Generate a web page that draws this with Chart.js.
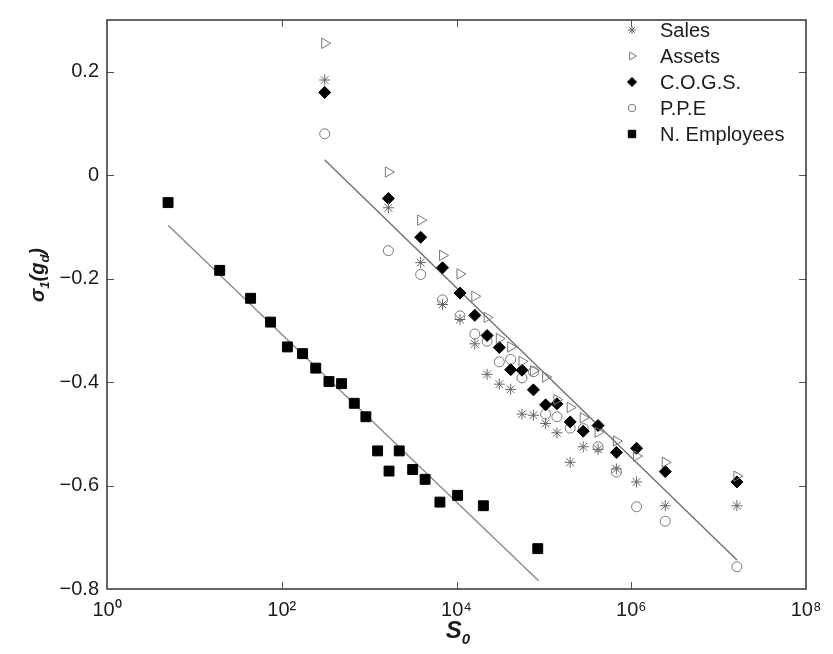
<!DOCTYPE html>
<html>
<head>
<meta charset="utf-8">
<script src="https://cdn.jsdelivr.net/npm/chart.js@4.4.1/dist/chart.umd.min.js"></script>
<style>
  html, body { margin: 0; padding: 0; background: #fff; }
  #wrap { width: 833px; height: 654px; }
</style>
</head>
<body>
<div id="wrap"><canvas id="chart" width="833" height="654"></canvas></div>
<script>
// firm size S0 shared by the four financial measures
const sizes = [310, 1660, 3890, 6920, 10960, 16200, 22400, 30900, 41700, 56200,
    75900, 104700, 141000, 200000, 282000, 417000, 676000, 1150000, 2450000, 16200000];

const sales = [0.184, -0.063, -0.169, -0.250, -0.279, -0.326, -0.385, -0.404, -0.414, -0.462,
    -0.464, -0.480, -0.498, -0.555, -0.525, -0.530, -0.568, -0.593, -0.639, -0.639];
const assets = [0.255, 0.006, -0.087, -0.155, -0.191, -0.234, -0.275, -0.316, -0.332, -0.360,
    -0.378, -0.390, -0.434, -0.449, -0.469, -0.497, -0.514, -0.543, -0.555, -0.582];
const cogs = [0.160, -0.045, -0.120, -0.179, -0.228, -0.271, -0.310, -0.333, -0.376, -0.377,
    -0.415, -0.444, -0.442, -0.477, -0.495, -0.484, -0.536, -0.528, -0.573, -0.593];
const ppe = [0.080, -0.146, -0.192, -0.241, -0.272, -0.307, -0.321, -0.361, -0.356, -0.392,
    -0.380, -0.462, -0.467, -0.489, -0.490, -0.525, -0.574, -0.641, -0.669, -0.757];

// number of employees uses its own size grid
const employeeSizes = [5, 19.5, 44, 74.5, 116, 173, 245, 347, 484, 676,
    918, 1250, 1690, 2210, 3150, 4370, 6460, 10300, 20300, 85100];
const employees = [-0.053, -0.184, -0.238, -0.284, -0.332, -0.345, -0.373, -0.399, -0.403, -0.441,
    -0.467, -0.533, -0.572, -0.533, -0.569, -0.588, -0.632, -0.619, -0.639, -0.722];

// fitted power-law lines (end points)
const fitEmpX = [5, 87000];
const fitEmpY = [-0.097, -0.784];
const fitFinX = [309, 16200000];
const fitFinY = [0.030, -0.744];

const xTicks = [1, 100, 10000, 1000000, 100000000];
const xTickLabels = ['10\u2070', '10\u00B2', '10\u2074', '10\u2076', '10\u2078'];
const yTicks = [-0.8, -0.6, -0.4, -0.2, 0, 0.2];

const legendLabels = ['Sales', 'Assets', 'C.O.G.S.', 'P.P.E', 'N. Employees'];

const FONT = '"Liberation Sans", Arial, Helvetica, sans-serif';
const TXT = '#1c1c1c';

function pts(xs, ys) {
    return xs.map(function (x, i) { return { x: x, y: ys[i] }; });
}

const markerSets = [
    { label: 'Sales', data: pts(sizes, sales), pointStyle: 'star', pointRadius: 5.5,
      borderColor: '#666', backgroundColor: 'rgba(0,0,0,0)', pointBorderWidth: 1 },
    { label: 'Assets', data: pts(sizes, assets), pointStyle: 'triangle', rotation: 90, pointRadius: 6,
      borderColor: '#777', backgroundColor: 'rgba(0,0,0,0)', pointBorderWidth: 1 },
    { label: 'C.O.G.S.', data: pts(sizes, cogs), pointStyle: 'rectRot', pointRadius: 6,
      borderColor: '#000', backgroundColor: '#000', pointBorderWidth: 1 },
    { label: 'P.P.E', data: pts(sizes, ppe), pointStyle: 'circle', pointRadius: 5,
      borderColor: '#777', backgroundColor: 'rgba(0,0,0,0)', pointBorderWidth: 1 },
    { label: 'N. Employees', data: pts(employeeSizes, employees), pointStyle: 'rect', pointRadius: 7,
      borderColor: '#000', backgroundColor: '#000', pointBorderWidth: 1 }
];

const datasets = markerSets.map(function (d) {
    return Object.assign({ showLine: false, pointHoverRadius: d.pointRadius }, d);
});
datasets.push({
    label: 'fit-emp', data: pts(fitEmpX, fitEmpY), showLine: true, pointRadius: 0,
    borderColor: '#8a8a8a', borderWidth: 1.4
});
datasets.push({
    label: 'fit-fin', data: pts(fitFinX, fitFinY), showLine: true, pointRadius: 0,
    borderColor: '#707070', borderWidth: 1.4
});

// box around the plot with inward tick marks on all four sides
const boxPlugin = {
    id: 'box',
    afterDatasetsDraw: function (chart) {
        const a = chart.chartArea, ctx = chart.ctx;
        const xs = chart.scales.x, ys = chart.scales.y;
        const tl = 7;
        ctx.save();
        ctx.strokeStyle = '#555';
        ctx.lineWidth = 1;
        ctx.beginPath();
        xTicks.forEach(function (v) {
            const px = Math.round(xs.getPixelForValue(v)) + 0.5;
            if (px <= a.left + 1 || px >= a.right - 1) return;
            ctx.moveTo(px, a.bottom); ctx.lineTo(px, a.bottom - tl);
            ctx.moveTo(px, a.top); ctx.lineTo(px, a.top + tl);
        });
        yTicks.forEach(function (v) {
            const py = Math.round(ys.getPixelForValue(v)) + 0.5;
            if (py <= a.top + 1 || py >= a.bottom - 1) return;
            ctx.moveTo(a.left, py); ctx.lineTo(a.left + tl, py);
            ctx.moveTo(a.right, py); ctx.lineTo(a.right - tl, py);
        });
        ctx.stroke();
        ctx.strokeStyle = '#333';
        ctx.lineWidth = 1.5;
        ctx.strokeRect(a.left, a.top, a.right - a.left, a.bottom - a.top);
        ctx.restore();
    }
};

// legend drawn inside the upper right corner of the plot
const legendPlugin = {
    id: 'innerLegend',
    afterDraw: function (chart) {
        const ctx = chart.ctx;
        const mx = 632, tx = 660, y0 = 30, dy = 26;
        ctx.save();
        ctx.font = '20px ' + FONT;
        ctx.fillStyle = TXT;
        ctx.textBaseline = 'middle';
        markerSets.forEach(function (d, i) {
            const y = y0 + i * dy;
            ctx.save();
            ctx.strokeStyle = d.borderColor;
            ctx.fillStyle = d.backgroundColor;
            ctx.lineWidth = 1;
            Chart.helpers.drawPoint(ctx, {
                pointStyle: d.pointStyle,
                rotation: d.rotation || 0,
                radius: d.pointRadius * 0.75,
                borderWidth: 1
            }, mx, y);
            ctx.restore();
            ctx.fillText(legendLabels[i], tx, y + 1);
        });
        ctx.restore();
    }
};

// axis titles with subscripts
function drawRuns(ctx, runs, x, y) {
    let w = 0;
    runs.forEach(function (r) { ctx.font = r.font; w += ctx.measureText(r.t).width; });
    let cx = x - w / 2;
    runs.forEach(function (r) {
        ctx.font = r.font;
        ctx.fillText(r.t, cx, y + (r.dy || 0));
        cx += ctx.measureText(r.t).width;
    });
}

const titlePlugin = {
    id: 'axisTitles',
    afterDraw: function (chart) {
        const ctx = chart.ctx;
        const big = 'italic bold 24px ' + FONT;
        const mid = 'italic bold 20px ' + FONT;
        const small = 'italic bold 13px ' + FONT;
        ctx.save();
        ctx.fillStyle = TXT;
        ctx.textBaseline = 'alphabetic';
        drawRuns(ctx, [
            { t: 'S', font: big },
            { t: '0', font: 'italic bold 15px ' + FONT, dy: 6 }
        ], 458, 638);
        ctx.translate(44, 275);
        ctx.rotate(-Math.PI / 2);
        drawRuns(ctx, [
            { t: '\u03C3', font: mid },
            { t: '1', font: small, dy: 5 },
            { t: '(g', font: mid },
            { t: 'd', font: small, dy: 5 },
            { t: ')', font: mid }
        ], 0, 0);
        ctx.restore();
    }
};

new Chart(document.getElementById('chart').getContext('2d'), {
    type: 'scatter',
    data: { datasets: datasets },
    options: {
        responsive: false,
        animation: false,
        layout: { padding: { top: 6, right: 27, left: 0, bottom: 0 } },
        plugins: {
            legend: { display: false },
            tooltip: { enabled: false }
        },
        scales: {
            x: {
                type: 'logarithmic',
                min: 1,
                max: 100000000,
                afterBuildTicks: function (s) { s.ticks = xTicks.map(function (v) { return { value: v }; }); },
                afterFit: function (s) { s.height = 65; },
                grid: { display: false, drawTicks: false },
                border: { display: false },
                ticks: {
                    autoSkip: false,
                    maxRotation: 0,
                    padding: 9,
                    color: TXT,
                    font: { family: FONT, size: 20 },
                    callback: function (v) {
                        const i = xTicks.indexOf(v);
                        return i >= 0 ? xTickLabels[i] : '';
                    }
                }
            },
            y: {
                min: -0.8,
                max: 0.3,
                afterBuildTicks: function (s) { s.ticks = yTicks.map(function (v) { return { value: v }; }); },
                afterFit: function (s) { s.width = 107; },
                grid: { display: false, drawTicks: false },
                border: { display: false },
                ticks: {
                    padding: 8,
                    color: TXT,
                    font: { family: FONT, size: 20 },
                    callback: function (v) {
                        if (Math.abs(v) < 1e-9) return '0';
                        return (v < 0 ? '\u2212' : '') + Math.abs(v).toFixed(1);
                    }
                }
            }
        }
    },
    plugins: [boxPlugin, legendPlugin, titlePlugin]
});
</script>
</body>
</html>
